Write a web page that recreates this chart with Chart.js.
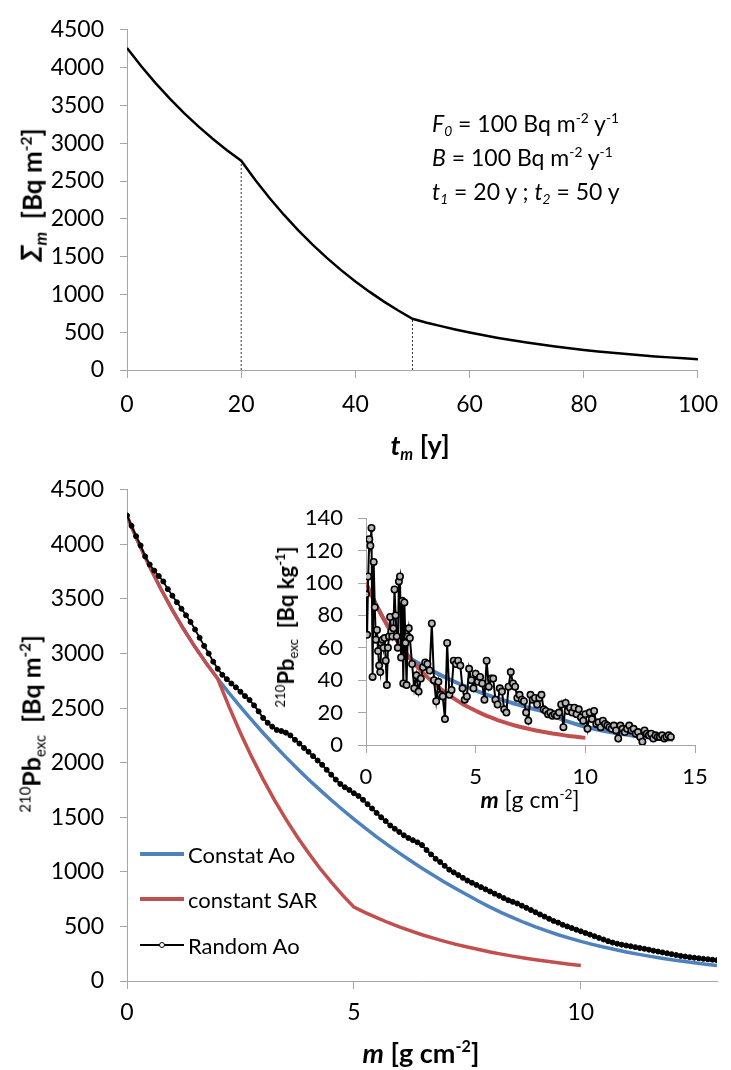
<!DOCTYPE html>
<html>
<head>
<meta charset="utf-8">
<script src="https://cdn.jsdelivr.net/npm/chart.js@4.4.1/dist/chart.umd.min.js"></script>
<style>
  body { margin:0; background:#fff; }
  #wrap { position:relative; width:731px; height:1070px; overflow:hidden; font-family:Lato, "Open Sans", sans-serif; color:#000; }
  canvas { position:absolute; }
  .t { position:absolute; white-space:nowrap; line-height:1; }
  .t sup, .t sub { font-size:0.6em; position:relative; vertical-align:baseline; }
  .t sup { top:-0.65em; }
  .t sub { top:0.3em; }
  .rot { transform:translate(-50%,-50%) rotate(-90deg); }
  .ctr { transform:translate(-50%,-50%); }
  .ttl { font-weight:bold; font-size:25px; }
  .note { font-size:23px; line-height:30px; }
  .leg { position:absolute; left:140px; height:24px; display:flex; align-items:center; font-size:22px; }
  .sw { width:44px; margin-right:4px; position:relative; }
  .dot { position:absolute; left:19px; top:-2px; width:4px; height:4px; border:1px solid #000; border-radius:50%; background:#fff; }
</style>
</head>
<body>
<div id="wrap">
  <canvas id="topChart" width="731" height="460" style="left:0;top:0"></canvas>
  <canvas id="mainChart" width="731" height="610" style="left:0;top:460px"></canvas>
  <canvas id="insetChart" width="471" height="300" style="left:260px;top:490px"></canvas>

  <!-- top chart texts -->
  <div class="t ttl rot" style="left:31px;top:195px;font-size:26px"><i style="font-size:1.1em">&Sigma;<sub>m</sub></i>&nbsp; [Bq m<sup>-2</sup>]</div>
  <div class="t ttl ctr" style="left:420px;top:444px;font-size:27px"><i>t<sub>m</sub></i> [y]</div>
  <div class="t note" style="left:432px;top:108px">
    <i>F<sub>0</sub></i> = 100 Bq m<sup>-2</sup> y<sup>-1</sup><br>
    <i>B</i> = 100 Bq m<sup>-2</sup> y<sup>-1</sup><br>
    <i>t<sub>1</sub></i> = 20 y ; <i>t<sub>2</sub></i> = 50 y
  </div>

  <!-- bottom chart texts -->
  <div class="t ttl rot" style="left:31px;top:724px"><sup style="font-weight:normal">210</sup>Pb<sub style="font-weight:normal">exc</sub>&nbsp; [Bq m<sup>-2</sup>]</div>
  <div class="t ttl ctr" style="left:421px;top:1052px;font-size:27px"><i>m</i> [g cm<sup>-2</sup>]</div>
  <div class="t rot" style="left:286px;top:627px;font-weight:bold;font-size:22px"><sup style="font-weight:normal">210</sup>Pb<sub style="font-weight:normal">exc</sub>&nbsp; [Bq kg<sup>-1</sup>]</div>
  <div class="t ctr" style="left:530px;top:799px;font-size:23px"><b><i>m</i></b> [g cm<sup>-2</sup>]</div>

  <div class="leg" style="top:842px"><div class="sw" style="height:4px;background:#4f81bd"></div>Constat Ao</div>
  <div class="leg" style="top:887px"><div class="sw" style="height:4px;background:#c0504d"></div>constant SAR</div>
  <div class="leg" style="top:933px"><div class="sw" style="height:2px;background:#000"><div class="dot"></div></div>Random Ao</div>
</div>

<script>
// ── DATA ─────────────────────────────
// top panel: inventory below age t (constant SAR model)
const tYears = [0,2.5,5,7.5,10,12.5,15,17.5,20,22.5,25,27.5,30,32.5,35,37.5,40,42.5,45,47.5,50,
                52.5,55,57.5,60,62.5,65,67.5,70,72.5,75,77.5,80,82.5,85,87.5,90,92.5,95,97.5,100];
const sigmaModel = [4258,4017,3795,3589,3398,3222,3059,2908,2769,2511,2272,2051,1847,1658,1483,1321,1172,1033,905,787,677,
                    626,580,536,496,459,424,393,363,336,311,288,266,246,228,211,195,180,167,154,143];
const tBreaks     = [20, 50];
const sigmaBreaks = [2769, 677];

// bottom panel: mass depth (g cm-2)
const mSAR = [0,0.25,0.5,0.75,1,1.25,1.5,1.75,2,2.25,2.5,2.75,3,3.25,3.5,3.75,4,4.25,4.5,4.75,5,
              5.25,5.5,5.75,6,6.25,6.5,6.75,7,7.25,7.5,7.75,8,8.25,8.5,8.75,9,9.25,9.5,9.75,10];
const mBlue = [0,0.25,0.5,0.75,1,1.25,1.5,1.75,2,2.25,2.5,2.75,3,3.25,3.5,3.75,4,4.25,4.5,4.75,5,
               5.25,5.5,5.75,6,6.25,6.5,6.75,7,7.25,7.5,7.75,8,8.25,8.5,8.75,9,9.25,9.5,9.75,10,
               10.25,10.5,10.75,11,11.25,11.5,11.75,12,12.25,12.5,12.75,13,13.25,13.5,13.75,14];
const sigmaBlue = [4258,4017,3795,3589,3398,3222,3059,2908,2769,2637,2511,2389,2272,2160,2051,1947,1847,1751,1658,1569,1483,
                   1401,1321,1245,1172,1101,1033,968,905,845,787,731,677,626,580,536,496,459,424,393,363,
                   336,311,288,266,246,228,211,195,180,167,154,143,132,122,113,105];
const mRandom = [0,0.1,0.2,0.3,0.4,0.5,0.6,0.7,0.8,0.9,1,1.1,1.2,1.3,1.4,1.5,1.6,1.7,1.8,1.9,
                 2,2.1,2.2,2.3,2.4,2.5,2.6,2.7,2.8,2.9,3,3.1,3.2,3.3,3.4,3.5,3.6,3.7,3.8,3.9,
                 4,4.1,4.2,4.3,4.4,4.5,4.6,4.7,4.8,4.9,5,5.1,5.2,5.3,5.4,5.5,5.6,5.7,5.8,5.9,
                 6,6.1,6.2,6.3,6.4,6.5,6.6,6.7,6.8,6.9,7,7.1,7.2,7.3,7.4,7.5,7.6,7.7,7.8,7.9,
                 8,8.1,8.2,8.3,8.4,8.5,8.6,8.7,8.8,8.9,9,9.1,9.2,9.3,9.4,9.5,9.6,9.7,9.8,9.9,
                 10,10.1,10.2,10.3,10.4,10.5,10.6,10.7,10.8,10.9,11,11.1,11.2,11.3,11.4,11.5,11.6,11.7,11.8,11.9,
                 12,12.1,12.2,12.3,12.4,12.5,12.6,12.7,12.8,12.9,13];
const sigmaRandom = [4265,4170,4075,3990,3890,3815,3760,3710,3660,3590,
                     3530,3470,3410,3350,3290,3220,3145,3070,3000,2925,
                     2860,2805,2765,2725,2690,2650,2610,2575,2525,2470,
                     2410,2365,2330,2300,2290,2275,2250,2210,2175,2135,
                     2100,2060,2020,1980,1935,1890,1845,1805,1775,1750,
                     1720,1695,1660,1620,1580,1540,1500,1465,1425,1395,
                     1365,1335,1310,1290,1270,1245,1200,1160,1120,1090,
                     1055,1020,995,970,945,920,900,880,860,840,
                     820,800,780,760,740,725,710,690,670,650,
                     630,610,590,570,550,535,515,500,485,470,
                     455,440,425,410,395,380,365,352,342,333,
                     325,318,310,302,295,287,278,270,262,254,
                     246,238,230,224,218,213,208,203,199,195,191];

// inset: activity concentration (Bq kg-1)
const concSAR = [100,92.5,85.6,79.2,73.2,67.8,62.7,58.0,53.6,49.6,45.9,42.5,39.3,36.4,33.6,31.1,28.8,26.6,24.6,22.8,21.1,
                 19.5,18.0,16.7,15.4,14.3,13.2,12.2,11.3,10.5,9.7,9.0,8.3,7.7,7.1,6.6,6.1,5.6,5.2,4.8,4.4];
const concBlue = [100,92.5,85.6,79.2,73.2,67.8,62.7,58.0,53.6,
                  51.6,49.6,47.7,45.9,44.2,42.5,40.9,39.3,37.8,36.4,35.0,33.6,32.3,31.1,29.9,28.8,27.7,26.6,25.6,24.6,23.7,22.8,21.9,21.1,
                  19.5,18.0,16.7,15.4,14.3,13.2,12.2,11.3,10.5,9.7,9.0,8.3,7.7,7.1,6.6,6.1,5.6,5.2,4.8,4.4,4.1,3.8,3.5,3.3];
const mInsetRandom = [0,0.05,0.1,0.15,0.2,0.25,0.3,0.35,0.4,0.45,0.5,0.55,0.6,0.65,0.7,0.75,0.8,0.85,0.9,0.95,
                      1,1.05,1.1,1.15,1.2,1.25,1.3,1.35,1.4,1.45,1.5,1.55,1.6,1.65,1.7,1.75,1.8,1.85,1.9,1.95,2,
                      2.1,2.2,2.3,2.4,2.5,2.6,2.7,2.8,2.9,3,3.1,3.2,3.3,3.4,3.5,3.6,3.7,3.8,3.9,4,
                      4.1,4.2,4.3,4.4,4.5,4.6,4.7,4.8,4.9,5,5.1,5.2,5.3,5.4,5.5,5.6,5.7,5.8,5.9,6,
                      6.1,6.2,6.3,6.4,6.5,6.6,6.7,6.8,6.9,7,7.1,7.2,7.3,7.4,7.5,7.6,7.7,7.8,7.9,8,
                      8.1,8.2,8.3,8.4,8.5,8.6,8.7,8.8,8.9,9,9.1,9.2,9.3,9.4,9.5,9.6,9.7,9.8,9.9,10,
                      10.1,10.2,10.3,10.4,10.5,10.6,10.7,10.8,10.9,11,11.1,11.2,11.3,11.4,11.5,11.6,11.7,11.8,11.9,12,
                      12.1,12.2,12.3,12.4,12.5,12.6,12.7,12.8,12.9,13,13.1,13.2,13.3,13.4,13.5,13.6,13.7,13.8,13.9];
const concRandom = [93,68,104,127,123,134,42,113,85,65,71,58,49,45,63,65,60,66,52,37,
                    60,67,79,70,67,72,96,80,67,60,101,104,54,89,38,88,63,37,67,72,66,
                    50,35,43,33,41,48,51,50,46,75,
                    40,27,39,31,30,16,63,31,34,52,
                    50,52,49,35,28,30,47,40,35,44,
                    39,42,38,28,52,36,41,41,28,25,
                    35,33,22,20,36,45,38,36,29,31,
                    28,27,20,15,31,28,29,25,29,31,
                    22,21,19,20,18,19,18,20,25,11,
                    26,21,23,20,23,19,22,17,15,19,
                    10,20,16,21,13,14,11,15,13,12,
                    11,10,12,9,4,12,10,8,10,12,
                    9,10,7,8,5,2,9,7,6,7,
                    4,6,5,5,6,4,5,6,5];

// ── STYLE ────────────────────────────
const AXIS = '#a6a6a6';
const BLUE = '#4f81bd';
const RED  = '#c0504d';

Chart.defaults.font.family = 'Lato';
Chart.defaults.color = '#000';

const pts = (xs, ys) => xs.map((x, i) => ({x, y: ys[i]}));

function linAxis(o) {
  return {
    type:'linear', min:o.min, max:o.max,
    ticks:{stepSize:o.step, font:{family:'Lato', size:o.size || 23}, color:'#000', padding:o.pad,
           includeBounds:false, maxRotation:0, autoSkip:false, callback:v => String(v)},
    grid:{drawOnChartArea:false, drawTicks:true, tickLength:o.tick, color:AXIS, lineWidth:1},
    border:{color:AXIS, width:1},
    afterFit:o.fit
  };
}

const base = (padding, scales) => ({
  responsive:false, animation:false, events:[],
  layout:{padding},
  plugins:{legend:{display:false}, tooltip:{enabled:false}},
  scales
});

// ── TOP: Σm vs tm ────────────────────
new Chart(document.getElementById('topChart'), {
  type:'scatter',
  data:{datasets:[
    {data:pts(tYears, sigmaModel), showLine:true, borderColor:'#000', borderWidth:2.5,
     pointRadius:0, tension:0, order:1},
    ...tBreaks.map((t, i) => ({
      data:[{x:t, y:0}, {x:t, y:sigmaBreaks[i]}], showLine:true,
      borderColor:'#333', borderWidth:1, borderDash:[2,2], pointRadius:0, order:2
    }))
  ]},
  options:base({top:21, right:18, left:0, bottom:0}, {
    x:linAxis({min:0, max:100, step:20, tick:8, pad:13, fit:s => { s.height = 90; }}),
    y:linAxis({min:0, max:4500, step:500, tick:7, pad:16, fit:s => { s.width = 127; }})
  })
});

// ── BOTTOM: 210Pb inventory vs m ─────
new Chart(document.getElementById('mainChart'), {
  type:'scatter',
  data:{datasets:[
    {label:'Constat Ao', data:pts(mBlue, sigmaBlue), showLine:true, borderColor:BLUE,
     borderWidth:3.5, pointRadius:0, order:3},
    {label:'constant SAR', data:pts(mSAR, sigmaModel), showLine:true, borderColor:RED,
     borderWidth:3.5, pointRadius:0, order:2},
    {label:'Random Ao', data:pts(mRandom, sigmaRandom), showLine:true, borderColor:'#000',
     borderWidth:1.8, pointRadius:2.5, pointBackgroundColor:'#000', pointBorderColor:'#000',
     pointBorderWidth:1, order:1}
  ]},
  options:base({top:26, right:14, left:0, bottom:0}, {
    x:linAxis({min:0, max:13, step:5, tick:8, pad:10, fit:s => { s.height = 89; }}),
    y:linAxis({min:0, max:4500, step:500, tick:7, pad:16, fit:s => { s.width = 127; }})
  })
});

// ── INSET: concentration vs m ────────
new Chart(document.getElementById('insetChart'), {
  type:'scatter',
  data:{datasets:[
    {data:pts(mBlue, concBlue), showLine:true, borderColor:BLUE, borderWidth:4, pointRadius:0, order:3},
    {data:pts(mSAR, concSAR), showLine:true, borderColor:RED, borderWidth:4, pointRadius:0, order:2},
    {data:pts(mInsetRandom, concRandom), showLine:true, borderColor:'#000', borderWidth:2,
     pointRadius:3.2, pointBackgroundColor:'#b8b8b8', pointBorderColor:'#000', pointBorderWidth:1.6, order:1}
  ]},
  options:base({top:22, right:36, left:0, bottom:0}, {
    x:linAxis({min:0, max:15, step:5, tick:8, pad:11, size:22, fit:s => { s.height = 45; }}),
    y:linAxis({min:0, max:140, step:20, tick:8, pad:15, size:22, fit:s => { s.width = 106; }})
  })
});
</script>
</body>
</html>
